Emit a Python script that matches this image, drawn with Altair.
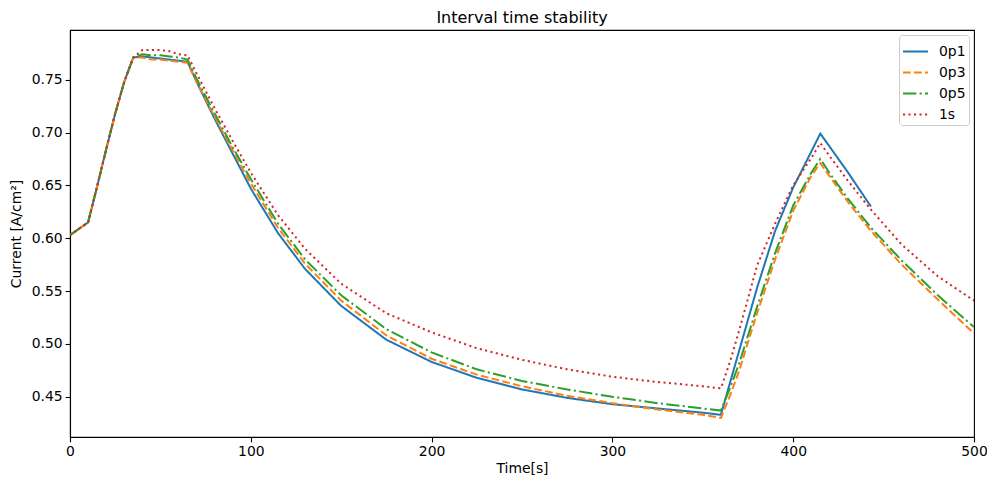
import altair as alt
import pandas as pd

series = ["0p1", "0p3", "0p5", "1s"]
colors = ["#1f77b4", "#ff7f0e", "#2ca02c", "#d62728"]
dashes = [[1, 0], [7.7, 3.3], [13.3, 3.3, 2.1, 3.3], [2.1, 3.4]]

t_all = [0, 10, 15, 20, 25, 30, 35, 40, 45, 50, 55, 60, 65,
         70, 80, 90, 100, 115, 130, 150, 175, 200, 225, 250, 275, 300, 325, 350, 360,
         365, 370, 380, 390, 400, 410, 415, 420, 430, 443, 460, 480, 500]

v_start = [0.603, 0.615, 0.649, 0.684, 0.718, 0.748, 0.771]

v_0p1 = v_start + [0.772, 0.771, 0.770, 0.769, 0.768, 0.767,
                   0.748, 0.713, 0.680, 0.647, 0.605, 0.571, 0.536, 0.504, 0.483, 0.468,
                   0.457, 0.449, 0.443, 0.439, 0.435, 0.433,
                   0.463, 0.493, 0.553, 0.607, 0.648, 0.682, 0.699,
                   0.687, 0.663, 0.630]
v_0p3 = v_start + [0.771, 0.769, 0.769, 0.768, 0.767, 0.766,
                   0.748, 0.715, 0.683, 0.652, 0.610, 0.576, 0.541, 0.508, 0.486, 0.471,
                   0.460, 0.451, 0.444, 0.438, 0.433, 0.430,
                   0.451, 0.474, 0.529, 0.580, 0.626, 0.659, 0.671,
                   0.659, 0.635, 0.607, 0.575, 0.542, 0.510]
v_0p5 = v_start + [0.774, 0.773, 0.773, 0.772, 0.771, 0.769,
                   0.751, 0.718, 0.686, 0.656, 0.614, 0.580, 0.546, 0.514, 0.492, 0.476,
                   0.465, 0.457, 0.450, 0.444, 0.439, 0.437,
                   0.458, 0.481, 0.535, 0.586, 0.631, 0.662, 0.675,
                   0.662, 0.638, 0.610, 0.579, 0.546, 0.516]
v_1s = v_start + [0.778, 0.778, 0.778, 0.777, 0.774, 0.773,
                  0.756, 0.723, 0.692, 0.662, 0.622, 0.590, 0.557, 0.529, 0.511, 0.496,
                  0.485, 0.476, 0.469, 0.464, 0.460, 0.458,
                  0.483, 0.512, 0.574, 0.614, 0.650, 0.676, 0.690,
                  0.678, 0.655, 0.627, 0.594, 0.564, 0.541]

x_ticks = [0, 100, 200, 300, 400, 500]
y_ticks = [0.45, 0.50, 0.55, 0.60, 0.65, 0.70, 0.75]

rows = []
for name, vals in zip(series, [v_0p1, v_0p3, v_0p5, v_1s]):
    for i, v in enumerate(vals):
        rows.append({"series": name, "t": t_all[i], "v": v, "order": i})
df = pd.DataFrame(rows)

FONT = "DejaVu Sans"

chart = alt.Chart(df).mark_line(strokeWidth=2, clip=True).encode(
    x=alt.X("t:Q", title="Time[s]",
            scale=alt.Scale(domain=[0, 500], nice=False, zero=False),
            axis=alt.Axis(values=x_ticks, format="d", labelFlush=False)),
    y=alt.Y("v:Q", title="Current [A/cm²]",
            scale=alt.Scale(domain=[0.412, 0.797], nice=False, zero=False),
            axis=alt.Axis(values=y_ticks, format=".2f", labelFlush=False)),
    color=alt.Color("series:N", scale=alt.Scale(domain=series, range=colors),
                    legend=alt.Legend(title=None)),
    strokeDash=alt.StrokeDash("series:N", scale=alt.Scale(domain=series, range=dashes),
                              legend=alt.Legend(title=None)),
    order="order:Q",
).properties(
    width=904, height=407,
    title=alt.TitleParams("Interval time stability", fontSize=16, fontWeight="normal",
                          font=FONT, color="black", offset=4),
    autosize=alt.AutoSizeParams(type="none"),
    padding={"left": 62, "top": 22, "right": 13, "bottom": 44},
).configure_view(
    stroke="black", strokeWidth=1.1
).configure_axis(
    labelFont=FONT, titleFont=FONT, labelFontSize=13.9, titleFontSize=13.9,
    labelColor="black", titleColor="black", titleFontWeight="normal",
    domainColor="black", tickColor="black", tickSize=4.9, tickWidth=1.1,
    domainWidth=1.1, grid=False, labelPadding=3,
).configure_axisY(
    titlePadding=8,
).configure_axisX(
    titlePadding=3,
).configure_legend(
    orient="top-right", offset=5, labelFont=FONT, labelFontSize=13.9, labelColor="black",
    symbolType="stroke", symbolSize=625, symbolStrokeWidth=2,
    strokeColor="#cccccc", fillColor="white", cornerRadius=3, padding=3,
    rowPadding=-6, labelOffset=10,
)

chart.save("out.html", embed_options={"renderer": "svg", "actions": False})
